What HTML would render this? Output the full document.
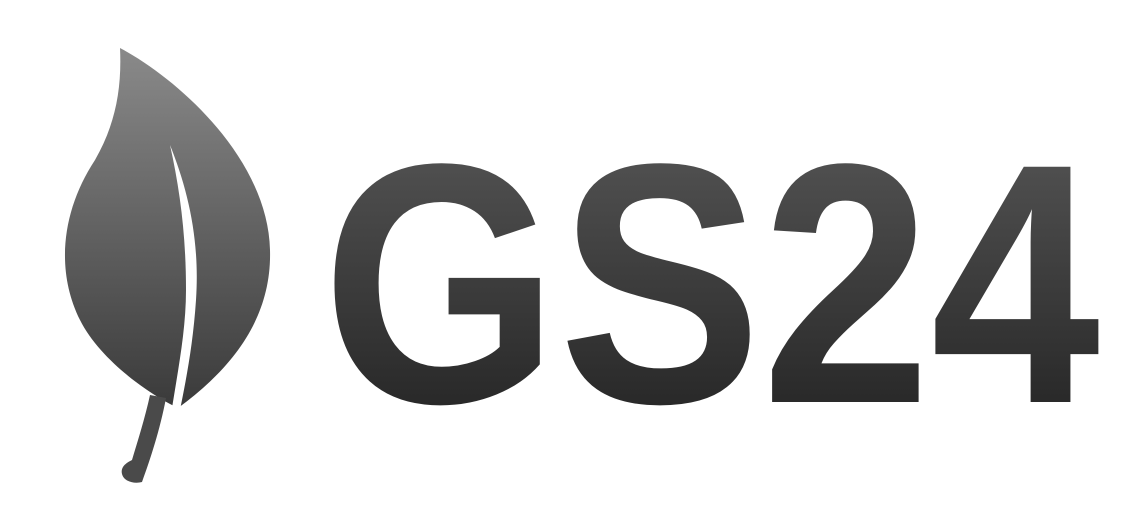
<!DOCTYPE html>
<html>
<head>
<meta charset="utf-8">
<style>
html,body{margin:0;padding:0;background:#fff;}
svg{display:block;}
</style>
</head>
<body>
<svg width="1135" height="531" viewBox="0 0 1135 531">
  <defs>
    <linearGradient id="leafGrad" x1="0" y1="0" x2="0" y2="1">
      <stop offset="0" stop-color="#8a8a8a"/>
      <stop offset="1" stop-color="#3a3a3a"/>
    </linearGradient>
    <linearGradient id="textGrad" x1="0" y1="0" x2="0" y2="1">
      <stop offset="0" stop-color="#5a5a5a"/>
      <stop offset="1" stop-color="#1e1e1e"/>
    </linearGradient>
  </defs>
  <g>
    <path fill="url(#leafGrad)"
      d="M120,48 C180,80 268,160 270,250 C272,320 230,370 178,408 C150,395 100,360 80,320 C55,270 62,210 95,160 C115,125 122,90 120,48 Z"/>
    <path fill="#4a4a4a"
      d="M150,395 L166,398 C160,430 150,460 142,482 C135,484 124,482 122,474 C120,466 128,462 132,460 C138,440 145,418 150,395 Z"/>
    <path fill="#fff"
      d="M170,145 C188,190 200,240 196,300 C193,345 186,380 180,410 L172,408 C178,370 186,330 186,290 C186,235 180,190 170,145 Z"/>
  </g>
  <text x="322" y="402"
    font-family="Liberation Sans, Arial, sans-serif" font-weight="bold" font-size="342"
    textLength="778" lengthAdjust="spacingAndGlyphs" fill="url(#textGrad)">GS24</text>
</svg>
</body>
</html>
